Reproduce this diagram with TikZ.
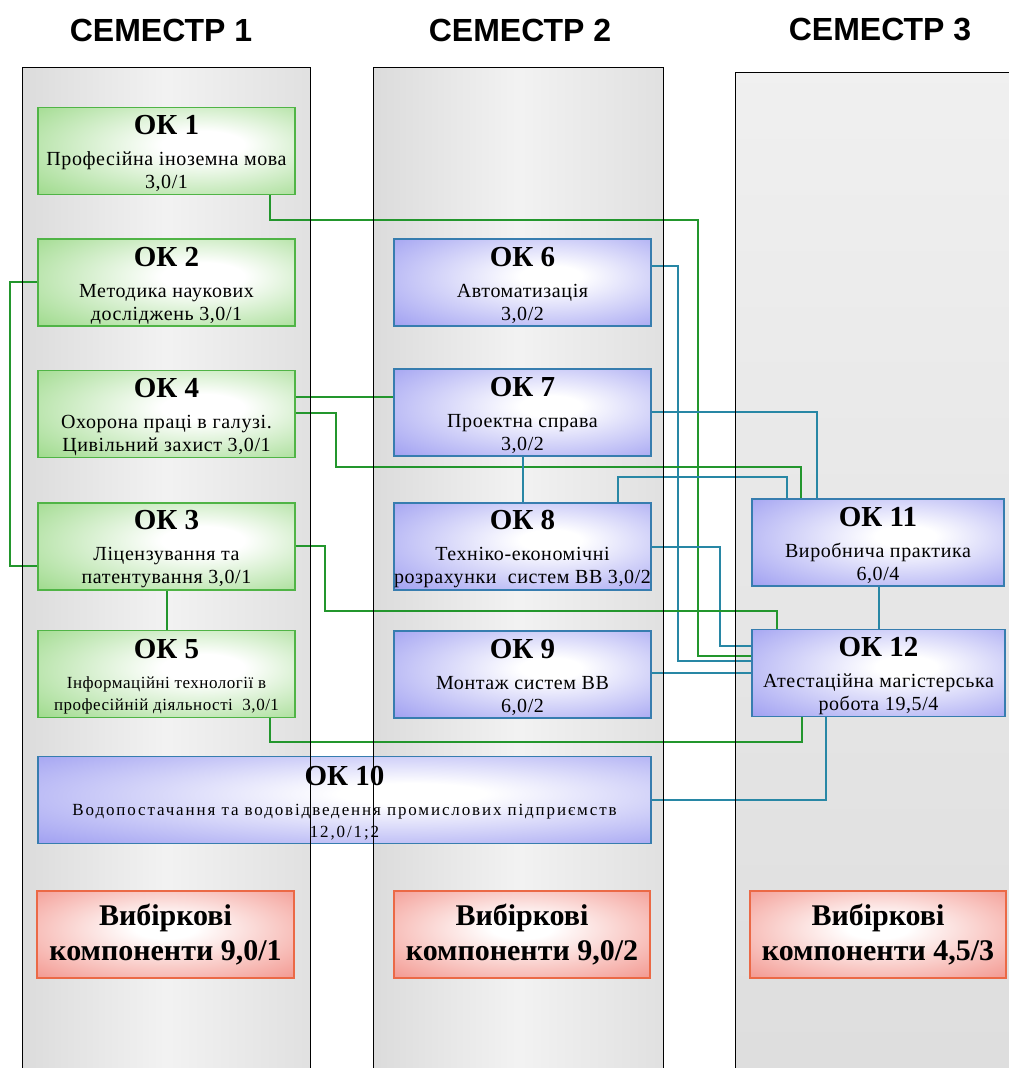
\documentclass[tikz,border=0pt]{standalone}
\usepackage{fontspec}
\setmainfont{Liberation Serif}
\newfontfamily\hdfont{Liberation Sans}
\newfontfamily\bodyfont{Liberation Serif}[LetterSpace=3]
\newfontfamily\widefont{Liberation Serif}[LetterSpace=11]
\definecolor{gA}{RGB}{150,215,130}
\definecolor{bA}{RGB}{150,150,240}
\definecolor{rA}{RGB}{240,125,115}
\definecolor{gLine}{RGB}{35,150,45}
\definecolor{gBorder}{RGB}{80,180,70}
\definecolor{bBorder}{RGB}{55,125,175}
\definecolor{tLine}{RGB}{40,135,165}
\definecolor{rBorder}{RGB}{235,105,70}
\pgfdeclareradialshading{gshade}{\pgfpoint{8bp}{4bp}}{color(0bp)=(white); color(8bp)=(white); color(42bp)=(gA); color(70bp)=(gA)}
\pgfdeclareradialshading{bshade}{\pgfpoint{6bp}{4bp}}{color(0bp)=(white); color(6bp)=(white); color(42bp)=(bA); color(70bp)=(bA)}
\pgfdeclareradialshading{rshade}{\pgfpoint{0bp}{4bp}}{color(0bp)=(white); color(6bp)=(white); color(45bp)=(rA); color(70bp)=(rA)}
\newcommand\okh[1]{{\fontsize{29}{29}\selectfont\rmfamily\bfseries\rule{0pt}{25pt}#1}\\[8pt]}
\tikzset{
  x=1pt, y=-1pt,
  box/.style={line width=1.2pt, minimum width=257pt, minimum height=87pt, inner sep=0pt, align=center,
     font=\bodyfont\fontsize{20}{23}\selectfont},
  gbox/.style={box, draw=gBorder, shading=gshade},
  bbox/.style={box, draw=bBorder, shading=bshade},
  rbox/.style={box, draw=rBorder, shading=rshade, font=\rmfamily\fontsize{30}{35}\selectfont\bfseries},
  gline/.style={draw=gLine, line width=1.3pt},
  tline/.style={draw=tLine, line width=1.3pt},
  hdr/.style={font=\hdfont\bfseries\fontsize{32}{33}\selectfont, inner sep=0pt},
  panelfill/.style={left color=black!14, right color=black!12, middle color=black!5},
  panelline/.style={draw=black, line width=1pt},
}
\begin{document}
\begin{tikzpicture}
\useasboundingbox[fill=white] (0,0) rectangle (1009,1068);
% panels (fills)
\fill[panelfill] (22,67) rectangle (310,1068);
\fill[panelfill] (373,67) rectangle (663,1068);
\fill[top color=black!6, bottom color=black!13] (735,72) rectangle (1009,1068);
% headers
\node[hdr] (s1) at (161,30) {СЕМЕСТР 1};
\node[hdr] (s2) at (520,30) {СЕМЕСТР 2};
\node[hdr] (s3) at (880,30) {СЕМЕСТР 3};
% green boxes
\node[gbox] (ok1) at (166.5,151) {\okh{ОК 1}Професійна іноземна мова\\3,0/1};
\node[gbox] (ok2) at (166.5,282.5) {\okh{ОК 2}Методика наукових\\досліджень 3,0/1};
\node[gbox] (ok4) at (166.5,414) {\okh{ОК 4}Охорона праці в галузі.\\Цивільний захист 3,0/1};
\node[gbox] (ok3) at (166.5,546.5) {\okh{ОК 3}Ліцензування та\\патентування 3,0/1};
\node[gbox, font=\bodyfont\fontsize{17}{22}\selectfont] (ok5) at (166.5,674) {\okh{ОК 5}Інформаційні технології в\\професійній діяльності\ \ 3,0/1};
% blue boxes
\node[bbox] (ok6) at (522.5,282.5) {\okh{ОК 6}Автоматизація\\3,0/2};
\node[bbox] (ok7) at (522.5,412.5) {\okh{ОК 7}Проектна справа\\3,0/2};
\node[bbox] (ok8) at (522.5,546.5) {\okh{ОК 8}Техніко-економічні\\розрахунки\ \ систем ВВ 3,0/2};
\node[bbox] (ok9) at (522.5,674.5) {\okh{ОК 9}Монтаж систем ВВ\\6,0/2};
\node[bbox, minimum width=613pt, font=\widefont\fontsize{17}{22}\selectfont] (ok10) at (344.5,800) {\okh{ОК 10}Водопостачання та водовідведення промислових підприємств\\12,0/1;2};
\node[bbox, minimum width=252pt] (ok11) at (878,542.5) {\okh{ОК 11}Виробнича практика\\6,0/4};
\node[bbox, minimum width=253pt] (ok12) at (878.5,673) {\okh{ОК 12}Атестаційна магістерська\\робота 19,5/4};
% red boxes
\node[rbox] (r1) at (165.5,934.5) {Вибіркові\\компоненти 9,0/1};
\node[rbox, minimum width=256pt] (r2) at (522,934.5) {Вибіркові\\компоненти 9,0/2};
\node[rbox, minimum width=256pt] (r3) at (878,934.5) {Вибіркові\\компоненти 4,5/3};
% connectors
\draw[gline] (ok1.south -| 270,0) -- (270,220) -- (698,220) |- (ok12.west |- 0,656);
\draw[tline] (ok6.east |- 0,266) -- (678,266) |- (ok12.west |- 0,661);
\draw[tline] (ok7.east |- 0,412) -| (ok11.north -| 817,0);
\draw[gline] (ok4.east |- 0,397) -- (ok7.west |- 0,397);
\draw[gline] (ok4.east |- 0,413) -| (336,467) -| (ok11.north -| 801,0);
\draw[tline] (ok7.south -| 523,0) -- (ok8.north -| 523,0);
\draw[tline] (ok8.north -| 618,0) |- (787,477) -- (ok11.north -| 787,0);
\draw[tline] (ok8.east |- 0,547) -| (720,646) -- (ok12.west |- 0,646);
\draw[gline] (ok3.east |- 0,546) -| (325,611) -| (ok12.north -| 777,0);
\draw[gline] (ok2.west |- 0,282) -| (10,566) -- (ok3.west |- 0,566);
\draw[gline] (ok3.south -| 167,0) -- (ok5.north -| 167,0);
\draw[gline] (ok5.south -| 270,0) |- (802,742) -- (ok12.south -| 802,0);
\draw[tline] (ok9.east |- 0,673) -- (ok12.west |- 0,673);
\draw[tline] (ok10.east |- 0,800) -| (ok12.south -| 826,0);
\draw[tline] (ok11.south -| 879,0) -- (ok12.north -| 879,0);
% panel borders
\draw[panelline] (22,1069) -- (22,67) -- (310,67) -- (310,1069);
\draw[panelline] (373,1069) -- (373,67) -- (663,67) -- (663,1069);
\draw[panelline] (735,1069) -- (735,72) -- (1010,72);
\end{tikzpicture}
\end{document}
